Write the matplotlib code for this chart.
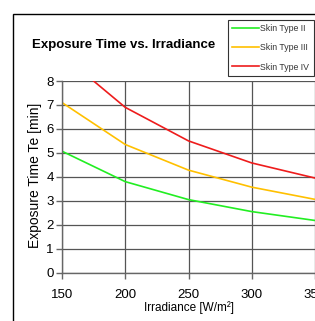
import matplotlib
matplotlib.use("Agg")
import matplotlib.pyplot as plt
import matplotlib.patches as patches

# Data
irradiance = [150, 200, 250, 300, 350]
skin_type_2 = [5.07, 3.80, 3.05, 2.55, 2.18]
skin_type_3 = [7.10, 5.35, 4.28, 3.57, 3.06]
skin_type_4 = [9.10, 6.90, 5.50, 4.58, 3.95]
series_labels = ["Skin Type II", "Skin Type III", "Skin Type IV"]
series_colors = ["#22ee22", "#ffc000", "#ee1c1c"]
y_ticks = [0, 1, 2, 3, 4, 5, 6, 7, 8]

font = ["Liberation Sans", "DejaVu Sans"]

fig = plt.figure(figsize=(3.15, 3.21), dpi=100)
fig.patch.set_facecolor("white")

# outer chart frame (cut off at right and bottom like the reference)
fig.patches.append(patches.Rectangle((13 / 315, -0.2), 1.2, 1 - 14 / 321 + 0.2,
                                     transform=fig.transFigure, fill=False,
                                     edgecolor="black", linewidth=1.0))

ax = fig.add_axes([62 / 315, 48.3 / 321, 253 / 315, 191.7 / 321])

for vals, lab, col in zip([skin_type_2, skin_type_3, skin_type_4], series_labels, series_colors):
    ax.plot(irradiance, vals, color=col, linewidth=1.2, label=lab)

ax.set_xlim(150, 350)
ax.set_ylim(0, 8)
ax.set_xticks(irradiance)
ax.set_yticks(y_ticks)
ax.grid(True, color="#555555", linewidth=0.9)
ax.set_axisbelow(True)

for side in ["top", "right"]:
    ax.spines[side].set_visible(False)
for side in ["left", "bottom"]:
    ax.spines[side].set_color("#666666")
    ax.spines[side].set_linewidth(1.0)

ax.tick_params(axis="both", colors="#666666", length=4, width=1.0, labelcolor="black")
ax.tick_params(axis="x", pad=8)
ax.tick_params(axis="y", pad=2)
for lbl in ax.get_xticklabels() + ax.get_yticklabels():
    lbl.set_fontfamily(font)
    lbl.set_fontsize(9.5)

ax.set_xlabel("Irradiance [W/m²]", family=font, fontsize=8.5, labelpad=0)
ax.set_ylabel("Exposure Time Te [min]", family=font, fontsize=10)
ax.yaxis.set_label_coords(-0.078, 0.51)

fig.text(124 / 315, 1 - 45 / 321, "Exposure Time vs. Irradiance", family=font,
         fontsize=9.5, fontweight="bold", ha="center", va="center")

leg = fig.legend(loc="upper left", bbox_to_anchor=(228 / 315, 1 - 20 / 321),
                 bbox_transform=fig.transFigure, prop={"family": font, "size": 6.3},
                 frameon=True, fancybox=False, handlelength=3.0, handletextpad=0.2,
                 labelspacing=1.15, borderpad=0.5, borderaxespad=0)
leg.get_frame().set_edgecolor("black")
leg.get_frame().set_linewidth(0.8)
for t in leg.get_texts():
    t.set_color("#333333")

fig.savefig("out.png", dpi=100)
